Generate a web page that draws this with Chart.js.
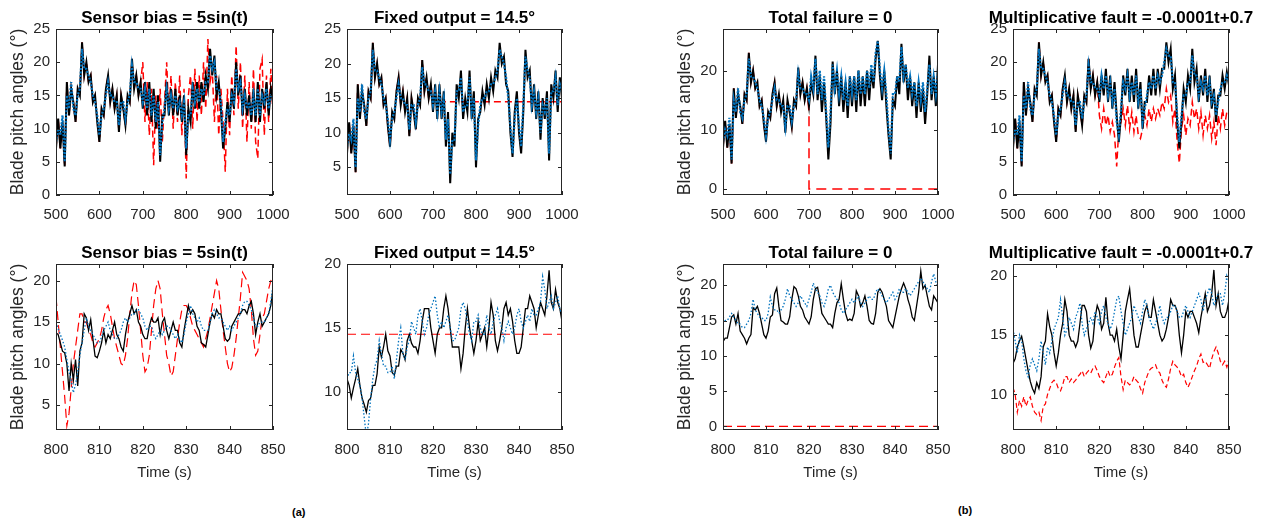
<!DOCTYPE html>
<html><head><meta charset="utf-8">
<script src="https://cdn.jsdelivr.net/npm/chart.js@4.4.0/dist/chart.umd.min.js"></script>
<style>
body{margin:0;background:#fff;width:1269px;height:521px;position:relative;overflow:hidden;font-family:"Liberation Sans",Arial,sans-serif}
.box{position:absolute}
.lab{position:absolute;font-weight:bold;font-size:11px;line-height:14px;color:#000}
</style></head><body>
<div class="lab" style="left:292px;top:505px">(a)</div>
<div class="lab" style="left:958px;top:503px">(b)</div>
<script>
// ---------- sample times ----------
const topTimes = [500,505,510,515,520,525,530,535,540,545,550,555,560,565,570,575,580,585,590,595,600,605,610,615,620,625,630,635,640,645,650,655,660,665,670,675,680,685,690,695,700,705,710,715,720,725,730,735,740,745,750,755,760,765,770,775,780,785,790,795,800,805,810,815,820,825,830,835,840,845,850,855,860,865,870,875,880,885,890,895,900,905,910,915,920,925,930,935,940,945,950,955,960,965,970,975,980,985,990,995,1000];
const bottomTimes = [800,800.5,801,801.5,802,802.5,803,803.5,804,804.5,805,805.5,806,806.5,807,807.5,808,808.5,809,809.5,810,810.5,811,811.5,812,812.5,813,813.5,814,814.5,815,815.5,816,816.5,817,817.5,818,818.5,819,819.5,820,820.5,821,821.5,822,822.5,823,823.5,824,824.5,825,825.5,826,826.5,827,827.5,828,828.5,829,829.5,830,830.5,831,831.5,832,832.5,833,833.5,834,834.5,835,835.5,836,836.5,837,837.5,838,838.5,839,839.5,840,840.5,841,841.5,842,842.5,843,843.5,844,844.5,845,845.5,846,846.5,847,847.5,848,848.5,849,849.5,850];
const faultSpan = [700, 1000];
const zoomSpan = [800, 850];

// ---------- titles / ticks ----------
const titles = ['Sensor bias = 5sin(t)', 'Fixed output = 14.5°', 'Total failure = 0', 'Multiplicative fault = -0.0001t+0.7'];
const yLabel = 'Blade pitch angles (°)';
const xLabel = 'Time (s)';
const topXTicks = [500,600,700,800,900,1000];
const bottomXTicks = [800,810,820,830,840,850];
const yTicks1 = [0,5,10,15,20,25];
const yTicks2 = [5,10,15,20,25];
const yTicks3 = [0,10,20];
const yTicks4 = [0,5,10,15,20,25];
const yTicks5 = [5,10,15,20];
const yTicks6 = [10,15,20];
const yTicks7 = [0,5,10,15,20];
const yTicks8 = [10,15,20];

// ---------- top row: 500-700 s (common to all four cases) ----------
const preBlack = [7,11.5,7,11,4.3,17,12,16,14,11, 16,15,23,18,20,17,18,14,15,11, 8,13,12,16,18,14,16,13,15,9.5, 15,13,10.5,15,14,20.5,16,18,15,17];
const preBlue  = [8,10,9,12,5,15,13,17,13,12, 15,16,22,19,19,18,17,15,14,12, 9,12,13,15,17,15,15,14,14,10.5, 14,14,11.5,14,15,19.5,17,17,16,16];

// ---------- top row: 700-1000 s ----------
const black1Post = [13,17,12,17,11,16,10,15,5,12, 12,17,12,16,12,16,12,15,11,15, 6,13,11,17,13,17,13,17,14,18, 16,22,18,21,15,17,13,7,10,14, 11,16,13,20,15,18,12,16,12,15, 11,16,11,17,11,16,13,17,12,16, 14];
const blue1Post  = [14,16,13,16,12,15,11,14,6,11, 13,16,13,15,13,15,13,14,12,14, 7,12,12,16,14,16,14,16,15,17, 17,21,19,20,16,16,14,8,11,13, 12,15,14,19,16,17,13,15,13,14, 12,15,12,16,12,15,14,16,13,15, 15];
const red1Post   = [20,11,17,9,16,4.5,15,10,16,8, 14,20,12,18,10,17,11,18,9,16, 2.5,15,18,10,19,11,18,12,20,13, 23.5,17,19,11,18,9,16,11,3.5,16, 9,18,12,22.5,13,20,10,18,8,17, 10,19,8,5.5,19,20.5,9,18,11,19, 12];

const black2Post = [13,17,12,17,12,16,8,13,2.7,10, 8,17,15,19,12,15,13,19,12,16, 5,12,13,16,14,17,15,18,16,19, 18,23,20,21,17,16,10,6.5,13,16, 10,7,13,22,18,19,13,17,12,16, 9,15,12,16,6,17,15,19,13,18, 15];
const blue2Post  = [14,16,13,16,13,15,9,12,4,9, 9,16,16,18,13,14,14,18,13,15, 6,11,14,15,15,16,16,17,17,18, 19,22,21,20,18,15,11,7,12,15, 11,8,14,21,19,18,14,16,13,15, 10,14,13,15,7,16,16,18,14,17, 16];
const red2Post   = [14.5, 14.5];

const black3Post = [14,18,16,22.5,15,19,13,18,12,5, 11,21.5,16,20,14,19,13,18,12,19, 14,19,13,20,14,19,14,20,15,20, 17,22,25,19,15,20,14,9,5,15, 14,19,16,24.5,18,21,15,19,14,18, 12,18,13,17,11,16,22.5,15,19,14, 21];
const blue3Post  = [15,19,17,22,16,20,15,19,13,7, 13,21,17,20,16,19,15,18,14,19, 16,19,15,20,16,19,16,20,17,21, 18,23,25,20,17,20,16,10,6,16, 16,19,18,24,19,21,17,19,16,18, 14,18,15,18,13,17,21,16,19,16, 20];
const red3PostT  = [700, 700, 1000];
const red3Post   = [13, 0, 0];

const black4Post = [14,18,15,19,14,18,13,17,12,8, 12,18,15,19,14,18,14,19,13,17, 10,14,14,18,15,19,15,19,16,19, 19,23,20,22,16,18,11,7,11,16, 14,18,16,22,17,19,14,18,15,19, 14,18,13,16,11,15,15,18,16,18.5, 16.5];
const blue4Post  = [15,18,16,18,15,17,14,16,11,9, 13,17,16,18,15,17,15,18,14,16, 11,13,15,17,16,18,16,18,17,18, 20,22,21,21,17,17,12,8,12,15, 15,17,17,21,18,18,15,17,16,18, 15,17,14,15,12,14,16,17,17,18, 17];
const red4Post   = [12,10,13,10.5,12,9.5,11,9,4.3,10, 11,13,10.5,13.5,10,12.5,9.5,12,9,8.5, 10,12,10.5,13,11,13,11.5,13,12,14, 13,16,14,15,11,13,8,4.8,10,12, 9,11.5,10.5,14,11.5,13,10,12.5,9,12, 10,12,8.5,11,7.5,12,10,13,10.5,12.5, 12];

// ---------- bottom row: 800-850 s ----------
const black5 = [13.7,13.5,12.5,11.5,11.3,10,6.7,10,8,10.5, 7.3,11.5,12.5,16,15.5,14,15.3,13,10.9,10.7, 11.5,12.5,14,12.5,13.5,13,14,15,13.5,13, 12,11.5,13.5,15,16,17,16,16.5,15,14.5, 13.5,13,13,14.5,15.5,15,15,15.5,13.5,15, 15.5,14,13,14,15,14,14,12.5,12,14, 15.5,17,16,16.5,16,14.5,14,12.5,12.3,12, 13.5,15,16,15.5,16.5,16,16,14.5,13,12.7, 13,14.5,15,15.5,16,16,16.5,16.5,16,17, 17.5,16,13.5,15,16,14.5,15,15.5,16,17, 19];
const blue5  = [15,14.2,13.5,12.8,12,10.5,9,8,6.5,7.5, 9,11,12.5,14,15.5,14.5,14,13.5,13,12.5, 12.5,13.2,14,14.5,15,14,13.5,13,13,13.5, 14,15,15.5,15,15.5,16,16,16.5,16.5,16, 15.5,14.5,14,14.5,14.5,13.5,13,13.5,14,13.5, 14,14.5,14.5,14,13.5,13,13.5,13,12.5,13.5, 15,16,17,16,15.5,15,15.5,14.5,14,14, 14,15,16,16.5,16,15.5,15.5,15,14.5,14, 14.5,14,14.5,15,15.5,16,17,17.5,17.5,17, 16.5,15.5,14.5,14.5,15,15,15,15.5,16,17.5, 19.5];
const red5   = [18,15,12,9,6,2.5,4,7,10,12, 14,16,16,15,15,14,13.5,12.5,12,12.5, 13,14,15.5,16.5,17,16,14.5,13,12,11, 10,9.8,11,13,16,18.5,20,19.5,17,14, 11,9,9.5,11,14,17,19,20,19,16, 13.5,11,10,8.5,9,11,13,15,16.5,17, 17,16.5,15.5,14.5,14,13.5,13,12.5,12,13, 14,15.5,17,18.5,20,19,16.5,14,12,10, 9,9.5,11,13,15.5,18,21,20.5,20,19, 16.5,13,11,11.5,13.5,15.5,16,17.5,19,20, 20.5];

const black6 = [11,10.5,9.5,10.3,11,11.8,10.5,9.5,9,8.4, 9.3,9.5,10.5,10.5,11.4,13.5,12.7,13.5,14.5,13.2, 12.8,11.5,11.3,12,12,13.3,13,12.5,14,14.5, 13.8,13.5,13.5,13,14,15.5,16.5,16.5,16.5,15, 14,13,14.5,15,15,16.5,17.5,16.5,15,13.5, 13.5,13.5,13.5,11.8,13,15,16.5,15,14,13, 14,15.5,14,14.5,15,13.5,15,17,16,14, 13.2,14,15,16.5,17,16,16.5,15.5,14,13, 13,13.5,15,16.5,16.5,17.5,17,16.5,15,16, 17,16.5,16,17.5,19.5,17,16.5,18,17,16.5, 15.5];
const blue6  = [11,11.5,11.5,12.8,11.5,11,10.5,9.5,8,6.5, 7.5,9.5,11,12,12.5,14,13,12,12,11.5, 11.5,12,11,12.5,14,15,13,12.5,13.5,14, 15.5,15,14.5,16,16.5,15.5,14.5,15,16,16.5, 17,17.5,16,15,15.5,15,15.5,16,15,14, 14,14.5,15,16.5,17,16.5,15.5,14.5,14,15.5, 15.5,16,15,14.5,14.5,16,15,14.5,15.5,16, 16.5,15.5,15,14,15,15.5,15,14.5,15,16, 16.5,15.5,15,15.5,16,15.5,16.5,16,16,16.5, 17,19,18,16.5,17,17.5,16.5,17,17.5,16.5, 16];
const red6   = [14.5, 14.5];

const black7 = [12,12.5,12.5,14,15.5,15.8,14.5,16,13.5,13, 12.5,11.7,12.5,13,16.8,16.5,17,16,14.5,13, 12.5,13.5,15.5,15.8,18.8,19.6,17,15,14.8,14.5, 14.5,15.5,18,19.8,19.5,18.5,17,16.5,15.5,15, 14.5,15.5,18,19.5,19.7,18,16,15.5,15,14.5, 14.5,14,16,17.5,18,20.2,18,16,15,15.2, 15,16,19.2,18.5,17,17.5,18.5,17,15,14.6, 14.5,16,19,19.5,19,18,17,15,14.5,14, 15.5,17,18.5,19.5,20.3,19.5,18,17,15.5,15, 17,19,22,19.5,20,18.5,17,16.5,18.5,18, 17.5];
const blue7  = [15.5,15,15,15.5,16,15.5,15,14.5,14.5,14, 14,14.5,15,16,18,16.5,16,15.5,15.5,15, 15,16,18.3,17,16.5,16.5,16,16.5,17,18, 19.5,18.5,18,17.5,17,17.5,18.5,18,17.5,17, 18,19,20.3,19.5,19,18.5,17.5,17,18,19.5, 20,19,18.5,18,17.5,16.5,16,16.5,17,17.5, 18,17.5,18,18.5,17.5,17,17.5,18,18.5,18, 18,19,19.5,19,18.5,18,17.5,18,18.5,19, 18,18.5,19.5,19,19,19.5,19,18.5,19,19.5, 20,20.5,21,20.5,20,19.5,19,20.5,21.6,20.5, 19.5];
const red7   = [0, 0];

const black8 = [12.6,13,14,14.5,14.9,14,13,12,11.1,10.5, 10.1,11,10.5,11.5,14,14.5,16.8,15.7,15,13.5, 12.4,13.5,15,16,18,17,15,14.5,14.5,14, 14.5,16,17.5,17.5,17,15,13.9,14.5,16.5,17.5, 17,15.5,16,18.2,16,15,15,14.5,15.5,14, 13,15,17,18,18.9,17,15,14,14,15, 16,17,17.5,16.5,16.5,18,17,16,15,14.5, 14.8,15.5,16.5,18,17.5,17.5,17,15,13.5,15, 17,16.5,17,17,16.5,16,15.2,16.5,17.5,18.5, 17,17.5,18.5,20.5,17.5,18.5,17,16.5,16.5,17, 18];
const blue8  = [15.5,14.5,13.5,15,14.5,13,12,11.5,12.5,13, 12.5,12,13,14.5,13.5,12.5,14,13.5,14.5,15.5, 16,16.5,18,16.5,15,15.5,16.5,16,15.5,16.5, 17,17.7,16,15,15.5,16,16.5,16,17,16.5, 16,17,17.5,16.5,16,15.5,16,17,18,18.3, 17,16,15,15.5,16,16.5,17.5,17,16.5,16, 17,18,17.5,16.5,16,15.5,16,16.5,17.5,16.5, 16,16.5,16.5,17,17.5,17.5,17,16.5,16.5,17, 17.5,17,16.5,17,17.5,18,18.5,18,17,18, 18.5,19,18.5,17.5,18,18.5,18.5,17.5,18.5,20, 19.5];
const red8   = [10.6,10,8.5,9.5,9,9.8,9,9.5,9.8,9, 8.5,8.3,8.5,7.8,9,9.2,10,10.5,11,11.2, 11,10.5,10.3,10.8,11.5,11.5,11,11.3,11,11.2, 11.5,11.7,12,11.5,11.8,12,11.8,12.2,12.4,12, 11.5,11.2,11,11.5,12,11.5,11.7,12.3,12.8,13.1, 11.5,10.4,11.2,11,10.8,11,11.5,11.2,11,10.5, 10.1,11,11.5,12,12.2,12.3,12.5,12,11.8,11.2, 10.8,10.6,11.3,12.2,12.8,12.5,12.3,12,11.5,11.7, 11,10.6,11,11.5,12,12.4,13,13.4,12.7,12.8, 12.5,12.2,13,13.6,14,13.5,12.8,12.5,12.8,12.3, 13];

// ---------- helpers ----------
const FONT = '"Liberation Sans", Arial, sans-serif';
Chart.defaults.font.family = FONT;
const INK = '#262626', BLUE = '#0072BD', RED = '#FF0000';
function pts(xs, ys){ return ys.map((y,i)=>({x:xs[i], y:y})); }
const preTimes = topTimes.slice(0, preBlack.length);

const framePlugin = {
  id: 'frame',
  afterDatasetsDraw(chart, args, opts){
    const {ctx, chartArea:a} = chart; const x = chart.scales.x, y = chart.scales.y;
    ctx.save();
    ctx.strokeStyle = INK; ctx.lineWidth = 1;
    ctx.strokeRect(Math.round(a.left)+0.5, Math.round(a.top)+0.5, Math.round(a.right-a.left)-1, Math.round(a.bottom-a.top)-1);
    const L = 4;
    ctx.beginPath();
    x.ticks.forEach(t=>{ const px = Math.round(x.getPixelForValue(t.value))+0.5;
      ctx.moveTo(px, a.bottom); ctx.lineTo(px, a.bottom-L); ctx.moveTo(px, a.top); ctx.lineTo(px, a.top+L); });
    y.ticks.forEach(t=>{ const py = Math.round(y.getPixelForValue(t.value))+0.5;
      ctx.moveTo(a.left, py); ctx.lineTo(a.left+L, py); ctx.moveTo(a.right, py); ctx.lineTo(a.right-L, py); });
    ctx.stroke();
    ctx.fillStyle = '#000'; ctx.font = 'bold 17px ' + FONT; ctx.textAlign = 'center'; ctx.textBaseline = 'alphabetic';
    ctx.fillText(opts.text, (a.left+a.right)/2, a.top - 6);
    ctx.restore();
  }
};

function makeChart(p){
  const top = p.row === 0 ? 0 : 230;
  const xH = p.row === 0 ? 40 : 60;
  const left = p.L - 56;
  const dense = p.row === 0;
  const div = document.createElement('div');
  div.className = 'box';
  div.style.left = left + 'px'; div.style.top = top + 'px';
  div.style.width = (p.R + 40 - left) + 'px';
  div.style.height = (p.B + xH - top) + 'px';
  const cv = document.createElement('canvas'); div.appendChild(cv); document.body.appendChild(div);
  const ds = [
    {data: p.blue, borderColor: BLUE, borderWidth: dense ? 2.2 : 1.3, borderDash: dense ? [2, 1.5] : [1.5, 2]},
    {data: p.black, borderColor: '#000', borderWidth: dense ? 2 : 1.3},
    {data: p.red, borderColor: RED, borderWidth: dense ? 1.5 : 1.2, borderDash: p.dash || [7, 4]}
  ].map(d => Object.assign({pointRadius: 0, tension: 0, fill: false}, d));
  new Chart(cv, {
    type: 'line',
    data: {datasets: ds},
    options: {
      responsive: true, maintainAspectRatio: false, animation: false,
      layout: {padding: {left: 0, right: 40, top: p.T - top, bottom: 0}},
      plugins: {legend: {display: false}, tooltip: {enabled: false}, frame: {text: p.title}},
      scales: {
        x: {type: 'linear', min: p.xmin, max: p.xmax,
          afterBuildTicks: s => { s.ticks = p.xt.map(v => ({value: v})); },
          afterFit: s => { s.height = xH; },
          grid: {display: false, drawTicks: false}, border: {display: false},
          ticks: {color: INK, font: {size: 15}, padding: 11, maxRotation: 0, autoSkip: false, callback: v => String(v)},
          title: {display: p.row === 1, text: xLabel, color: INK, font: {size: 15}, padding: {top: 0, bottom: 8}}},
        y: {type: 'linear', min: p.ymin, max: p.ymax,
          afterBuildTicks: s => { s.ticks = p.yt.map(v => ({value: v})); },
          afterFit: s => { s.width = 56; },
          grid: {display: false, drawTicks: false}, border: {display: false},
          ticks: {color: INK, font: {size: 15}, padding: 6, autoSkip: false, callback: v => String(v)},
          title: {display: !!p.ylab, text: yLabel, color: INK, font: {size: 17.5}, padding: {top: 8, bottom: 0}}}
      }
    },
    plugins: [framePlugin]
  });
}

const colL = [56, 347, 723, 1013], colR = [273, 562, 938, 1229];
const topDefs = [
  {ymin: 0, ymax: 25, yt: yTicks1, ylab: true,
   black: pts(topTimes, preBlack.concat(black1Post)), blue: pts(topTimes, preBlue.concat(blue1Post)), red: pts(topTimes, preBlack.concat(red1Post))},
  {ymin: 1, ymax: 25, yt: yTicks2, ylab: false,
   black: pts(topTimes, preBlack.concat(black2Post)), blue: pts(topTimes, preBlue.concat(blue2Post)), red: pts(preTimes, preBlack).concat(pts(faultSpan, red2Post))},
  {ymin: -1, ymax: 27, yt: yTicks3, ylab: true,
   black: pts(topTimes, preBlack.concat(black3Post)), blue: pts(topTimes, preBlue.concat(blue3Post)), red: pts(preTimes, preBlack).concat(pts(red3PostT, red3Post)), dash: [10, 6]},
  {ymin: 0, ymax: 25, yt: yTicks4, ylab: false,
   black: pts(topTimes, preBlack.concat(black4Post)), blue: pts(topTimes, preBlue.concat(blue4Post)), red: pts(topTimes, preBlack.concat(red4Post))}
];
const botDefs = [
  {ymin: 2, ymax: 22, yt: yTicks5, ylab: true, black: pts(bottomTimes, black5), blue: pts(bottomTimes, blue5), red: pts(bottomTimes, red5), dash: [9, 5]},
  {ymin: 7, ymax: 20, yt: yTicks6, ylab: false, black: pts(bottomTimes, black6), blue: pts(bottomTimes, blue6), red: pts(zoomSpan, red6), dash: [9, 5]},
  {ymin: -0.5, ymax: 23, yt: yTicks7, ylab: true, black: pts(bottomTimes, black7), blue: pts(bottomTimes, blue7), red: pts(zoomSpan, red7), dash: [9, 5]},
  {ymin: 7, ymax: 21, yt: yTicks8, ylab: false, black: pts(bottomTimes, black8), blue: pts(bottomTimes, blue8), red: pts(bottomTimes, red8), dash: [5, 3]}
];
topDefs.forEach((d, i) => makeChart(Object.assign({row: 0, L: colL[i], R: colR[i], T: 29, B: 195, xmin: 500, xmax: 1000, xt: topXTicks, title: titles[i]}, d)));
botDefs.forEach((d, i) => makeChart(Object.assign({row: 1, L: colL[i], R: colR[i], T: 264, B: 430, xmin: 800, xmax: 850, xt: bottomXTicks, title: titles[i]}, d)));
</script>
</body></html>
